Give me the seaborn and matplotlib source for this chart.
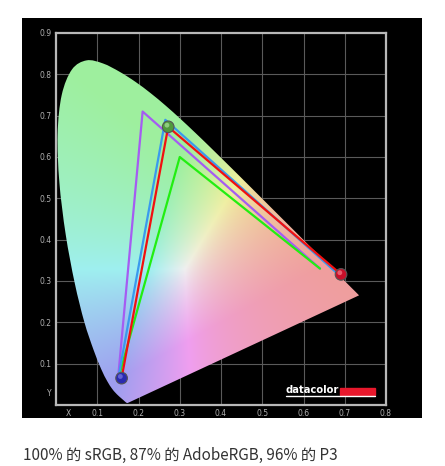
import numpy as np
import pandas as pd
import matplotlib
matplotlib.use("Agg")
import matplotlib.pyplot as plt
from matplotlib.patches import PathPatch, Rectangle
from matplotlib.path import Path
import seaborn as sns

# CIE 1931 spectral locus (380-700 nm)
locus_x = [0.1741, 0.1740, 0.1738, 0.1736, 0.1733, 0.1730, 0.1726, 0.1721, 0.1714, 0.1703,
           0.1689, 0.1669, 0.1644, 0.1611, 0.1566, 0.1510, 0.1440, 0.1355, 0.1241, 0.1096,
           0.0913, 0.0687, 0.0454, 0.0235, 0.0082, 0.0039, 0.0139, 0.0389, 0.0743, 0.1142,
           0.1547, 0.1929, 0.2296, 0.2658, 0.3016, 0.3373, 0.3731, 0.4087, 0.4441, 0.4788,
           0.5125, 0.5448, 0.5752, 0.6029, 0.6270, 0.6482, 0.6658, 0.6801, 0.6915, 0.7006,
           0.7079, 0.7140, 0.7190, 0.7230, 0.7260, 0.7283, 0.7300, 0.7311, 0.7320, 0.7334,
           0.7344, 0.7347]
locus_y = [0.0050, 0.0050, 0.0049, 0.0049, 0.0048, 0.0048, 0.0048, 0.0048, 0.0051, 0.0058,
           0.0069, 0.0086, 0.0109, 0.0138, 0.0177, 0.0227, 0.0297, 0.0399, 0.0578, 0.0868,
           0.1327, 0.2007, 0.2950, 0.4127, 0.5384, 0.6548, 0.7502, 0.8120, 0.8338, 0.8262,
           0.8059, 0.7816, 0.7543, 0.7243, 0.6923, 0.6589, 0.6245, 0.5896, 0.5547, 0.5202,
           0.4866, 0.4544, 0.4242, 0.3965, 0.3725, 0.3514, 0.3340, 0.3197, 0.3083, 0.2993,
           0.2920, 0.2859, 0.2809, 0.2770, 0.2740, 0.2717, 0.2700, 0.2689, 0.2680, 0.2666,
           0.2656, 0.2653]

# gamut triangles (red, green, blue primaries)
adobe_x = [0.64, 0.21, 0.15]
adobe_y = [0.33, 0.71, 0.06]
srgb_x = [0.64, 0.30, 0.15]
srgb_y = [0.33, 0.60, 0.06]
p3_x = [0.68, 0.265, 0.15]
p3_y = [0.32, 0.69, 0.06]
meas_x = [0.691, 0.272, 0.159]
meas_y = [0.316, 0.673, 0.065]

x_ticks = [0.1, 0.2, 0.3, 0.4, 0.5, 0.6, 0.7, 0.8]
y_ticks = [0.1, 0.2, 0.3, 0.4, 0.5, 0.6, 0.7, 0.8, 0.9]
caption = "100% 的 sRGB, 87% 的 AdobeRGB, 96% 的 P3"

sns.set_style("dark")
plt.rcParams['font.family'] = ['DejaVu Sans']

fig = plt.figure(figsize=(4.45, 4.66), dpi=100)
fig.patch.set_facecolor("white")
W, H = 445, 466

# black picture background
bg = fig.add_axes([22 / W, 1 - 418 / H, 400 / W, 400 / H], zorder=-5)
bg.set_facecolor("black")
bg.set_xticks([])
bg.set_yticks([])
for s in bg.spines.values():
    s.set_visible(False)

ax = fig.add_axes([56 / W, 1 - 405 / H, 330 / W, 372 / H], zorder=1)
ax.set_facecolor("black")
ax.set_xlim(0, 0.8)
ax.set_ylim(0, 0.9)

# chromaticity colour fill
gx, gy = np.meshgrid(np.linspace(0, 0.8, 400), np.linspace(0, 0.9, 450))
gy2 = np.maximum(gy, 1e-3)
XYZ = np.stack([gx / gy2, np.ones_like(gx), (1 - gx - gy2) / gy2], axis=-1)
M = np.array([[3.2406, -1.5372, -0.4986],
              [-0.9689, 1.8758, 0.0415],
              [0.0557, -0.2040, 1.0570]])
rgb = np.clip(XYZ @ M.T, 0, None)
rgb = rgb / np.maximum(rgb.max(axis=-1, keepdims=True), 1e-6)
rgb = 0.4 + 0.6 * rgb
rgb = np.clip(rgb ** (1 / 2.2) * 0.94, 0, 1)
img = ax.imshow(rgb, origin="lower", extent=[0, 0.8, 0, 0.9], zorder=1,
                interpolation="bilinear", aspect="auto")

# smooth outline through the locus points (Catmull-Rom as cubic Bezier)
pts = np.column_stack([locus_x, locus_y])
verts = [pts[0]]
codes = [Path.MOVETO]
n = len(pts)
for i in range(n - 1):
    p0 = pts[max(i - 1, 0)]
    p1 = pts[i]
    p2 = pts[i + 1]
    p3 = pts[min(i + 2, n - 1)]
    verts += [p1 + (p2 - p0) / 6, p2 - (p3 - p1) / 6, p2]
    codes += [Path.CURVE4] * 3
verts += [pts[0], pts[0]]
codes += [Path.LINETO, Path.CLOSEPOLY]
horseshoe = PathPatch(Path(verts, codes), transform=ax.transData,
                      facecolor="none", edgecolor="none")
ax.add_patch(horseshoe)
img.set_clip_path(horseshoe)

# grid
for v in x_ticks[:-1]:
    ax.axvline(v, color="#5a5a5a", lw=0.8, zorder=0.5)
for v in y_ticks[:-1]:
    ax.axhline(v, color="#5a5a5a", lw=0.8, zorder=0.5)
ax.grid(False)

def tri(xs, ys, name):
    return pd.DataFrame({"x": xs + xs[:1], "y": ys + ys[:1], "gamut": name})

sns.lineplot(data=tri(adobe_x, adobe_y, "AdobeRGB"), x="x", y="y", sort=False,
             color="#a55cf2", lw=1.6, ax=ax, zorder=3)
sns.lineplot(data=tri(srgb_x, srgb_y, "sRGB"), x="x", y="y", sort=False,
             color="#22ee11", lw=1.6, ax=ax, zorder=3)
sns.lineplot(data=tri(p3_x, p3_y, "P3"), x="x", y="y", sort=False,
             color="#3a9aee", lw=1.6, ax=ax, zorder=4)
sns.lineplot(data=tri(meas_x, meas_y, "Display"), x="x", y="y", sort=False,
             color="#f21010", lw=1.6, ax=ax, zorder=5)

# primaries markers
ax.scatter(meas_x, meas_y, s=70, c=["#c8102a", "#4f9a3c", "#2a2ab0"],
           edgecolors="#555555", linewidths=0.8, zorder=6)
ax.scatter([m - 0.003 for m in meas_x], [m + 0.004 for m in meas_y], s=12,
           c=["#f07080", "#a0d890", "#7070e0"], linewidths=0, zorder=7, alpha=0.8)

ax.set_xticks([0.03] + x_ticks)
ax.set_xticklabels(["X"] + [f"{v:.1f}" for v in x_ticks])
ax.set_yticks([0.03] + y_ticks)
ax.set_yticklabels(["Y"] + [f"{v:.1f}" for v in y_ticks])
ax.tick_params(length=0, pad=3, labelsize=5.5, colors="#b0b0b0")
ax.set_xlabel("")
ax.set_ylabel("")
for s in ax.spines.values():
    s.set_visible(True)
    s.set_color("#b8b8b8")
    s.set_linewidth(1.6)

# datacolor logo
ax.text(0.557, 0.025, "datacolor", color="white", fontsize=7.2, fontweight="bold",
        ha="left", va="bottom", zorder=8)
ax.add_patch(Rectangle((0.688, 0.025), 0.086, 0.015, color="#e8182c", zorder=8))
ax.plot([0.557, 0.774], [0.021, 0.021], color="white", lw=1, zorder=8)

fig.text(23 / W, 1 - 455 / H, caption, fontsize=11, color="#333333",
         ha="left", va="center", family=["Noto Sans CJK SC", "DejaVu Sans"])

fig.savefig("out.png", dpi=100, facecolor="white")
